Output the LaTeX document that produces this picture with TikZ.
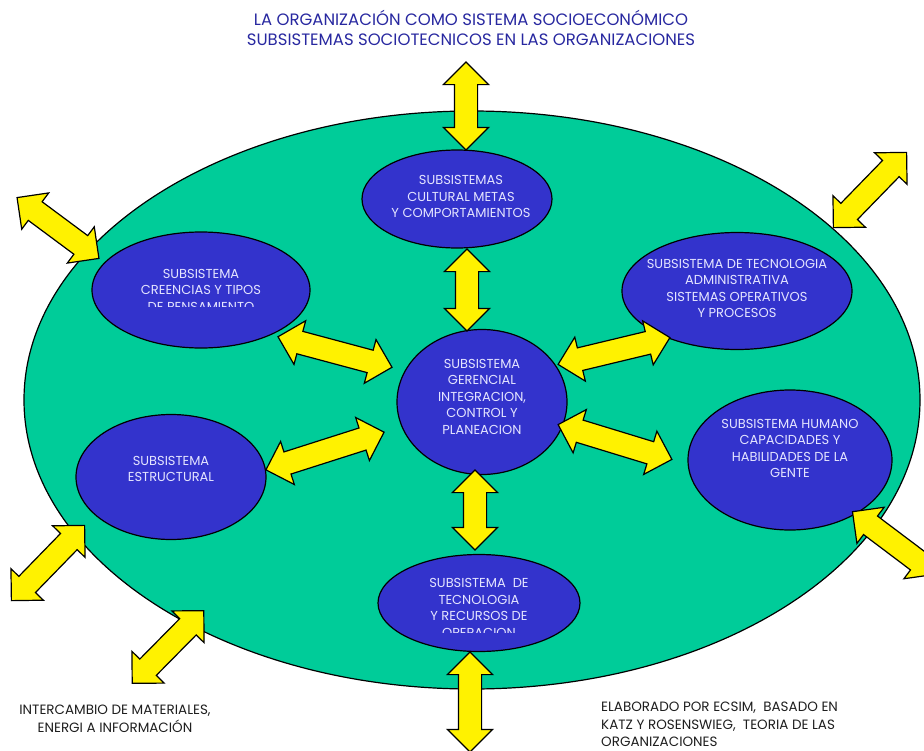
\documentclass[tikz,border=0pt]{standalone}
\usepackage{fontspec}
\setmainfont{Poppins}
\usepackage{tikz}
\usetikzlibrary{positioning,shapes.geometric,shapes.arrows}
\definecolor{orggreen}{RGB}{0,204,153}
\definecolor{subblue}{RGB}{51,51,204}
\definecolor{titleblue}{RGB}{40,40,160}
\definecolor{subtext}{RGB}{228,228,255}
\definecolor{notegray}{RGB}{30,30,30}

\tikzset{
    sub/.style={ellipse, draw=black, line width=1.2pt, fill=subblue, inner sep=0pt},
    subtxt/.style={align=center, text=subtext, inner sep=0pt, font=\fontsize{13}{16.5}\selectfont},
    flow/.style={double arrow, draw=black, line width=1.2pt, fill=yellow, inner xsep=0pt, inner ysep=11pt,
        minimum width=44pt, double arrow head extend=11pt, double arrow tip angle=90},
    note/.style={text=notegray, inner sep=0pt, font=\fontsize{13.5}{17.5}\selectfont}
}

\begin{document}
\begin{tikzpicture}[x=1pt,y=-1pt]
    \useasboundingbox (0,0) rectangle (924,750);

    % Title
    \node[align=center, text=titleblue, font=\fontsize{16.5}{20}\selectfont] (titulo) at (471,28)
        {LA ORGANIZACIÓN COMO SISTEMA SOCIOECONÓMICO\\SUBSISTEMAS SOCIOTECNICOS EN LAS ORGANIZACIONES};

    % Organisation
    \node[ellipse, draw=black, line width=1.2pt, fill=orggreen, minimum width=896pt, minimum height=578pt] (org) at (472,400) {};

    % Subsystems
    \node[sub, minimum width=190pt, minimum height=98pt]  (cultural)   at (457,199) {};
    \node[sub, minimum width=218pt, minimum height=116pt] (creencias)  at (201,290) {};
    \node[sub, minimum width=230pt, minimum height=117pt] (tecadmin)   at (737,291) {};
    \node[sub, minimum width=170pt, minimum height=145pt] (gerencial)  at (482,402) {};
    \node[sub, minimum width=190pt, minimum height=125pt] (estructura) at (171,477) {};
    \node[sub, minimum width=204pt, minimum height=140pt] (humano)     at (790,460) {};
    \node[sub, minimum width=202pt, minimum height=97pt]  (operacion)  at (479,603) {};

    % Subsystem labels
    \node[subtxt] (t-cultural) at ([xshift=4pt, yshift=2.5pt]cultural.center) {SUBSISTEMAS\\CULTURAL METAS\\Y COMPORTAMIENTOS};
    \node[subtxt] (t-tecadmin) at ([yshift=2.5pt]tecadmin.center) {SUBSISTEMA DE TECNOLOGIA\\ADMINISTRATIVA\\SISTEMAS OPERATIVOS\\Y PROCESOS};
    \node[subtxt] (t-gerencial) at ([yshift=5.5pt]gerencial.center) {SUBSISTEMA\\GERENCIAL\\INTEGRACION,\\CONTROL Y\\PLANEACION};
    \node[subtxt] (t-estructura) at ([yshift=8pt]estructura.center) {SUBSISTEMA\\ESTRUCTURAL};
    \node[subtxt] (t-humano) at ([yshift=11.5pt]humano.center) {SUBSISTEMA HUMANO\\CAPACIDADES Y\\HABILIDADES DE LA\\GENTE};
    \begin{scope}
        \clip (90,230) rectangle (315,306);
        \node[subtxt] (t-creencias) at (creencias.center) {SUBSISTEMA\\CREENCIAS Y TIPOS\\DE PENSAMIENTO};
    \end{scope}
    \begin{scope}
        \clip (375,553) rectangle (585,632);
        \node[subtxt] (t-operacion) at ([yshift=-5pt]operacion.center) {SUBSISTEMA~ DE\\TECNOLOGIA\\Y RECURSOS DE\\OPERACION};
    \end{scope}

    % Exchanges inside
    \node[flow, minimum height=82pt, rotate=90]    (f-cultural)   at (467,290) {};
    \node[flow, minimum height=118pt, rotate=-15]  (f-creencias)  at (335,352) {};
    \node[flow, minimum height=124pt, rotate=17.7] (f-estructura) at (325,451) {};
    \node[flow, minimum height=115pt, rotate=13.5] (f-tecadmin)   at (614,351) {};
    \node[flow, minimum height=119pt, rotate=-17]  (f-humano)     at (615,442) {};
    \node[flow, minimum height=80pt, rotate=90]    (f-operacion)  at (475,510) {};

    % Exchanges with environment
    \node[flow, minimum height=88pt, rotate=90]     (e-top)  at (466,106) {};
    \node[flow, minimum height=102pt, rotate=-36.6] (e-nw)   at (58,228) {};
    \node[flow, minimum height=105pt, rotate=45.8]  (e-ne)   at (870,190) {};
    \node[flow, minimum height=104pt, rotate=-37]   (e-e)    at (894,543) {};
    \node[flow, minimum height=105pt, rotate=45.8]  (e-sw)   at (48,563) {};
    \node[flow, minimum height=102pt, rotate=45.4]  (e-ssw)  at (168,647) {};
    \node[flow, minimum height=100pt, rotate=90]    (e-bot)  at (470,702) {};

    % Notes
    \node[note, align=center] (n-intercambio) at (115,719) {INTERCAMBIO DE MATERIALES,\\ENERGI A INFORMACIÓN};
    \node[note, align=left, anchor=north west] (n-fuente) at (601,702) {ELABORADO POR ECSIM,~ BASADO EN\\KATZ Y ROSENSWIEG,~ TEORIA DE LAS\\ORGANIZACIONES};
\end{tikzpicture}
\end{document}
